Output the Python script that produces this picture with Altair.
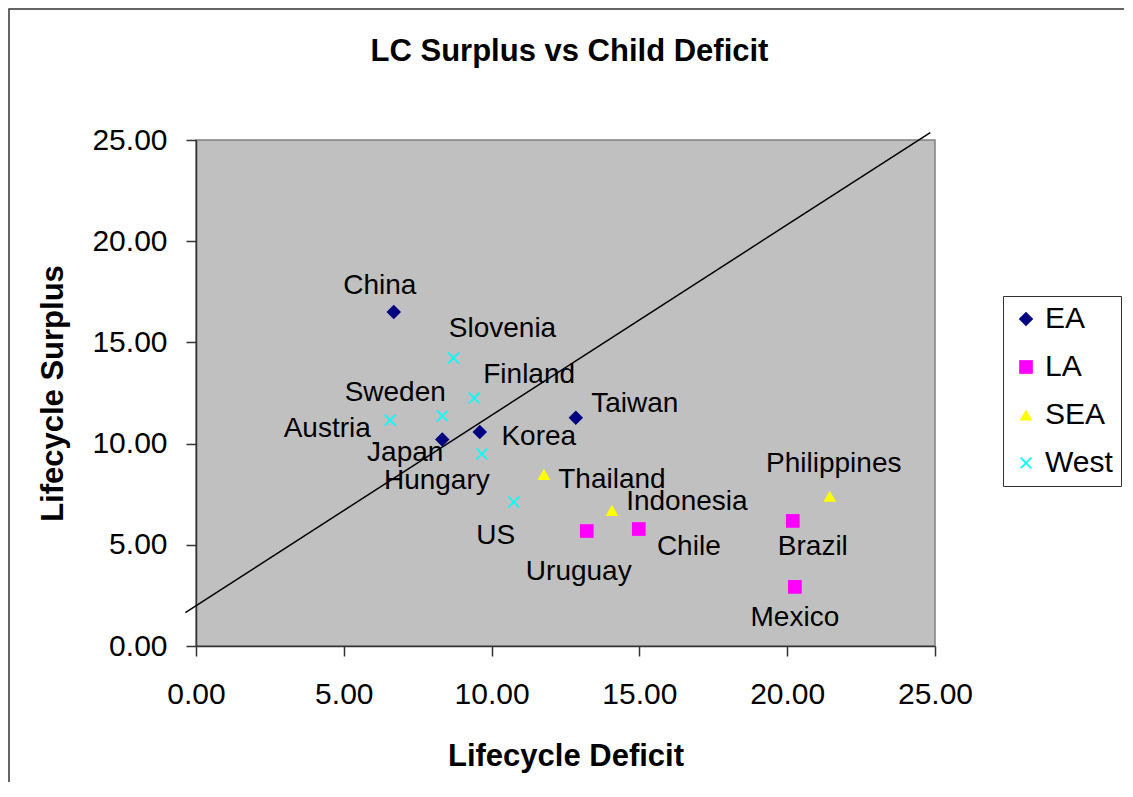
"""LC surplus vs child deficit scatter, by region."""

import altair as alt
import pandas as pd

FONT = "Liberation Sans, Arial, sans-serif"

# values
countries = [
    "China", "Japan", "Korea", "Taiwan",
    "Uruguay", "Chile", "Brazil", "Mexico",
    "Thailand", "Indonesia", "Philippines",
    "Austria", "Sweden", "Slovenia", "Finland", "Hungary", "US",
]
regions = ["EA"] * 4 + ["LA"] * 4 + ["SEA"] * 3 + ["West"] * 6
deficit = [
    6.69, 8.33, 9.60, 12.85,
    13.22, 14.98, 20.19, 20.26,
    11.77, 14.07, 21.44,
    6.57, 8.33, 8.71, 9.41, 9.67, 10.75,
]
surplus = [
    16.50, 10.20, 10.57, 11.28,
    5.68, 5.78, 6.18, 2.92,
    8.48, 6.70, 7.40,
    11.15, 11.36, 14.23, 12.25, 9.49, 7.11,
]

# the straight reference line, its two ends
line_x = [-0.36, 24.84]
line_y = [1.65, 25.37]

region_names = ["EA", "LA", "SEA", "West"]
region_colors = ["#000080", "#FF00FF", "#FFFF00", "#00FFFF"]
x_path = (
    "M-1,-0.8L-0.8,-1L0,-0.2L0.8,-1L1,-0.8L0.2,0L1,0.8L0.8,1"
    "L0,0.2L-0.8,1L-1,0.8L-0.2,0Z"
)
region_shapes = ["diamond", "square", "triangle-up", x_path]
region_sizes = [210, 144, 360, 180]

# where each data label sits relative to its marker (pixels)
label_offsets = {
    "China": (-14, -26),
    "Slovenia": (49, -29),
    "Finland": (55, -23),
    "Sweden": (-47, -23),
    "Austria": (-63, 9),
    "Japan": (-37, 13),
    "Korea": (59, 5),
    "Hungary": (-45, 27),
    "US": (-18, 34),
    "Taiwan": (59, -14),
    "Thailand": (68, 6),
    "Indonesia": (75, -8),
    "Uruguay": (-8, 41),
    "Chile": (50, 18),
    "Brazil": (20, 26),
    "Mexico": (0, 31),
    "Philippines": (4, -32),
}

df = pd.DataFrame(
    {"country": countries, "region": regions, "deficit": deficit, "surplus": surplus}
)
line_df = pd.DataFrame({"deficit": line_x, "surplus": line_y})

ticks = [0, 5, 10, 15, 20, 25]
x_scale = alt.Scale(domain=[0, 25], nice=False, zero=False)
y_scale = alt.Scale(domain=[0, 25], nice=False, zero=False)

x_enc = alt.X(
    "deficit:Q",
    scale=x_scale,
    axis=alt.Axis(
        values=ticks,
        format=".2f",
        title="Lifecycle Deficit",
        titleBaseline="alphabetic",
        titleY=119,
        labelBaseline="alphabetic",
        labelPadding=47,
        labelFlush=False,
    ),
)
y_enc = alt.Y(
    "surplus:Q",
    scale=y_scale,
    axis=alt.Axis(
        values=ticks,
        format=".2f",
        title="Lifecycle Surplus",
        titleAngle=270,
        titleBaseline="alphabetic",
        titleAlign="center",
        titleX=-134,
        titleY=253,
        labelBaseline="middle",
        labelPadding=19,
        labelFlush=False,
    ),
)

# outer frame of the chart
frame = (
    alt.Chart(alt.Data(values=[{"f": 1}]))
    .mark_rect(fill=None, stroke="#333333", strokeWidth=1.5, clip=False)
    .encode(
        x=alt.value(-187),
        x2=alt.value(1000),
        y=alt.value(-131),
        y2=alt.value(800),
    )
)

diag = (
    alt.Chart(line_df)
    .mark_line(color="black", strokeWidth=1.5, clip=False)
    .encode(x=x_enc, y=y_enc)
)

points = (
    alt.Chart(df)
    .mark_point(filled=True, opacity=1)
    .encode(
        x=x_enc,
        y=y_enc,
        color=alt.Color(
            "region:N",
            scale=alt.Scale(domain=region_names, range=region_colors),
            title=None,
        ),
        shape=alt.Shape(
            "region:N",
            scale=alt.Scale(domain=region_names, range=region_shapes),
            title=None,
        ),
        size=alt.Size(
            "region:N",
            scale=alt.Scale(domain=region_names, range=region_sizes),
            title=None,
        ),
    )
)

labels = []
for name, (dx, dy) in label_offsets.items():
    labels.append(
        alt.Chart(df)
        .transform_filter(alt.datum.country == name)
        .mark_text(
            dx=dx, dy=dy, fontSize=28, font=FONT, color="black",
            align="center", baseline="middle",
        )
        .encode(x=x_enc, y=y_enc, text="country:N")
    )

chart = (
    alt.layer(frame, diag, points, *labels)
    .properties(
        width=739,
        height=506,
        autosize=alt.AutoSizeParams(type="none"),
        padding={"left": 188, "top": 132, "right": 189, "bottom": 136},
        title=alt.TitleParams(
            "LC Surplus vs Child Deficit",
            fontSize=31,
            fontWeight="bold",
            font=FONT,
            anchor="middle",
            baseline="alphabetic",
            # the frame's top edge sets where the offset is counted from
            offset=-84,
            dx=4,
            frame="group",
        ),
    )
    .configure_view(fill="#C0C0C0", stroke="#808080", strokeWidth=1.5)
    .configure_axis(
        labelFont=FONT,
        labelFontSize=30,
        labelColor="black",
        titleFont=FONT,
        titleFontSize=31,
        titleFontWeight="bold",
        titleColor="black",
        tickSize=10,
        tickColor="#333333",
        tickWidth=1.5,
        domainColor="#333333",
        domainWidth=1.5,
        grid=False,
    )
    .configure_legend(
        orient="none",
        legendX=807,
        legendY=156,
        strokeColor="#333333",
        fillColor="white",
        padding=8,
        symbolOffset=0,
        labelOffset=4,
        labelFont=FONT,
        labelFontSize=30,
        labelColor="black",
        rowPadding=18,
        symbolOpacity=1,
    )
)

chart.save("out.html", embed_options={"renderer": "svg", "actions": False})
